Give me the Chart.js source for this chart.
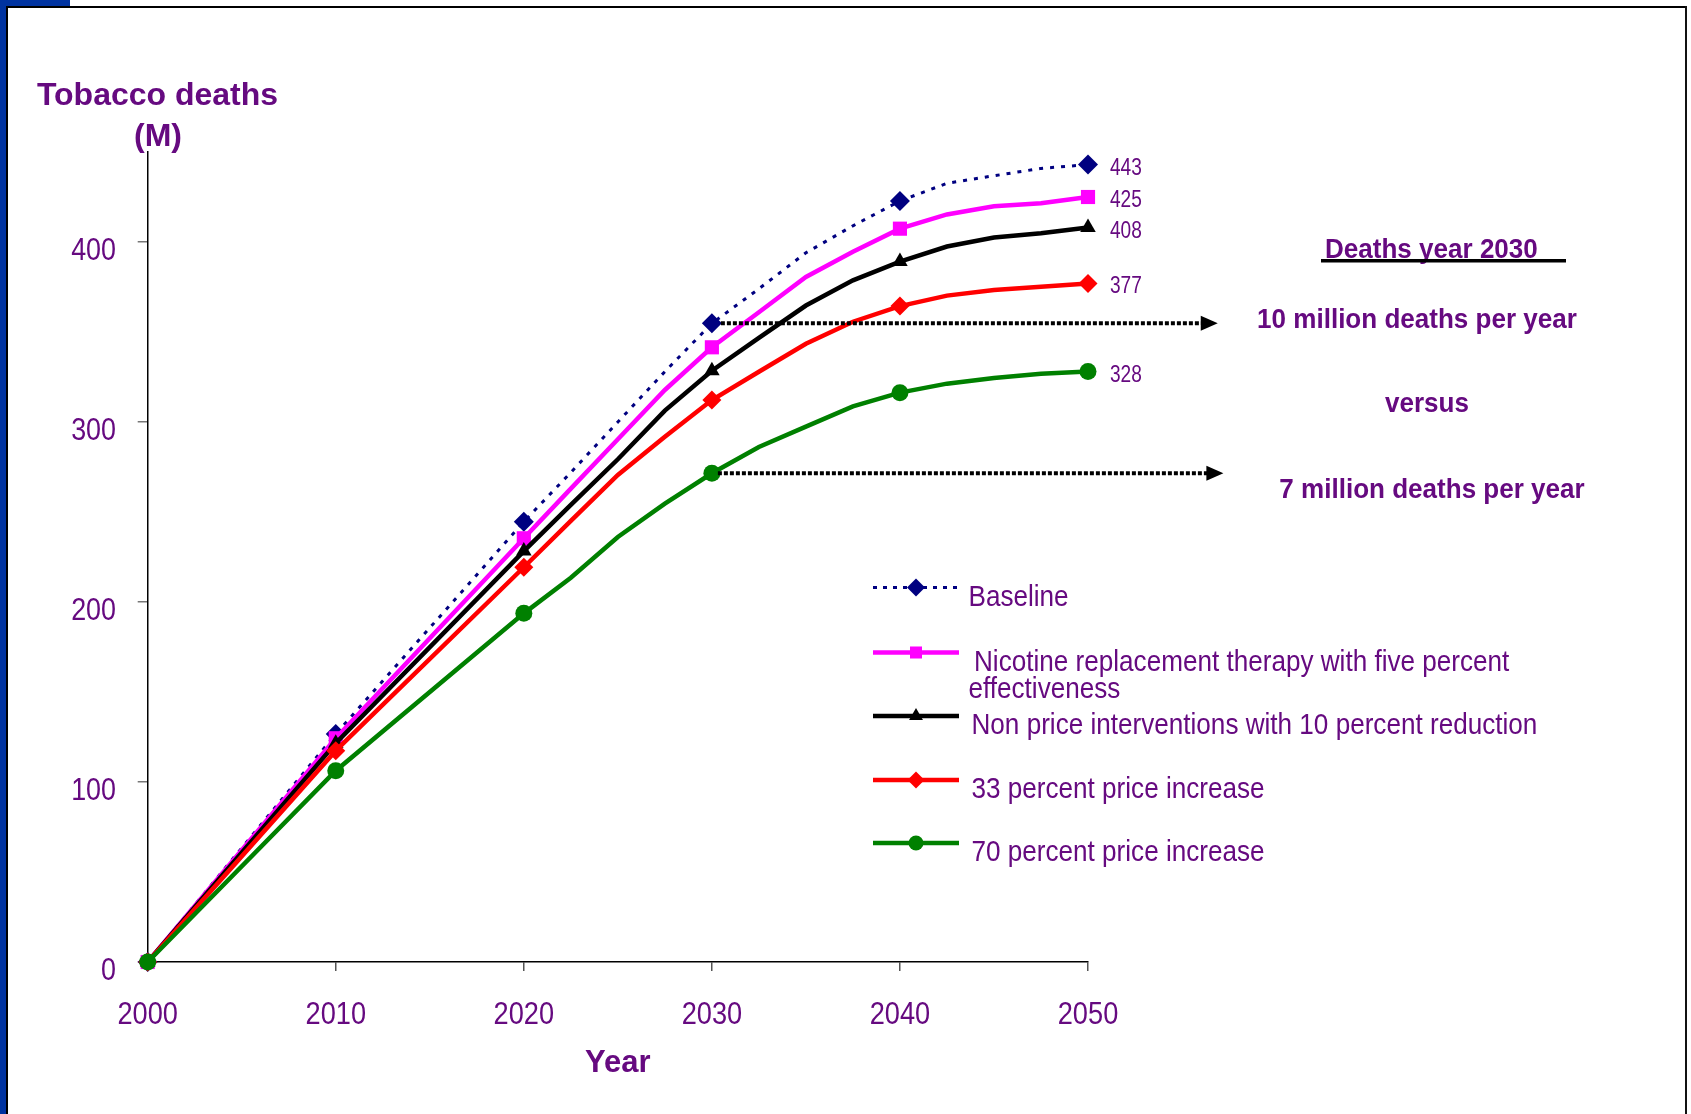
<!DOCTYPE html>
<html>
<head>
<meta charset="utf-8">
<title>Tobacco deaths</title>
<script src="https://cdn.jsdelivr.net/npm/chart.js@4.4.1/dist/chart.umd.min.js"></script>
<style>
  html, body { margin: 0; padding: 0; background: #fff; }
  body { width: 1691px; height: 1114px; position: relative; overflow: hidden; }
  #chart { position: absolute; left: 0; top: 0; }
  .frame { position: absolute; }
  #blueLeft { left: 0; top: 0; width: 6px; height: 1114px; background: #0033a0; }
  #blueTop { left: 0; top: 0; width: 70px; height: 7px; background: #0033a0; }
  #lineTop { left: 6px; top: 6px; width: 1681px; height: 2px; background: #000; }
  #lineLeft { left: 6px; top: 6px; width: 2px; height: 1108px; background: #000; }
  #lineRight { left: 1685px; top: 6px; width: 2px; height: 1108px; background: #111; }
</style>
</head>
<body>
<canvas id="chart" width="1691" height="1114"></canvas>
<div class="frame" id="blueLeft"></div>
<div class="frame" id="blueTop"></div>
<div class="frame" id="lineTop"></div>
<div class="frame" id="lineLeft"></div>
<div class="frame" id="lineRight"></div>
<script>
	// values (millions of deaths, cumulative)
	const years    = [2000, 2010, 2020, 2022.5, 2025, 2027.5, 2030, 2032.5, 2035, 2037.5, 2040, 2042.5, 2045, 2047.5, 2050];
	const baseline = [0, 126.7, 244.6, 272, 300, 328, 354.8, 374, 394, 409, 422.8, 432.6, 436.8, 440.9, 443];
	const nrt      = [0, 124.3, 235.4, 263, 290.4, 317.8, 341.5, 361, 380.6, 394.6, 407.4, 415.3, 419.8, 421.5, 425];
	const nonPrice = [0, 121.5, 228.3, 253.9, 279.3, 306.3, 328.5, 346.7, 364.7, 378.7, 389.1, 397.5, 402.5, 404.9, 408];
	const price33  = [0, 117.4, 219.3, 245.1, 270.6, 291.8, 312.2, 327.9, 343.5, 355.7, 364.4, 370.2, 373.3, 375.2, 377];
	const price70  = [0, 106.3, 193.7, 213.5, 236.1, 254.6, 271.5, 286.1, 297.4, 308.7, 316.3, 321.3, 324.4, 326.8, 328];

	const seriesNames = [
		'Baseline',
		'Nicotine replacement therapy with five percent effectiveness',
		'Non price interventions with 10 percent reduction',
		'33 percent price increase',
		'70 percent price increase'
	];
	const endLabels = ['443', '425', '408', '377', '328'];
	const xTicks = [2000, 2010, 2020, 2030, 2040, 2050];
	const yTicks = [0, 100, 200, 300, 400];
	const noteLines = ['Deaths year 2030', '10 million deaths per year', 'versus', '7 million deaths per year'];

	const PURPLE = '#660a80';
	const SANS = "'Liberation Sans', Arial, sans-serif";

	function pts(values){ return years.map((y, i) => ({ x: y, y: values[i] })); }
	function decadeOnly(r){ return ctx => (years[ctx.dataIndex] % 10 === 0 ? r : 0); }

	const styles = [
		{ color: '#000080', style: 'rectRot',  r: 10,  width: 3,   dash: [4, 7], order: 5 },
		{ color: '#ff00ff', style: 'rect',     r: 10,  width: 4.5, dash: [],     order: 4 },
		{ color: '#000000', style: 'triangle', r: 9,   width: 4.5, dash: [],     order: 3 },
		{ color: '#ff0000', style: 'rectRot',  r: 9.5, width: 4.5, dash: [],     order: 2 },
		{ color: '#008000', style: 'circle',   r: 8.5, width: 4.5, dash: [],     order: 1 }
	];
	const allSeries = [baseline, nrt, nonPrice, price33, price70];

	const datasets = allSeries.map((vals, i) => ({
		label: seriesNames[i],
		data: pts(vals),
		borderColor: styles[i].color,
		backgroundColor: styles[i].color,
		borderWidth: styles[i].width,
		borderDash: styles[i].dash,
		pointStyle: styles[i].style,
		pointRadius: decadeOnly(styles[i].r),
		pointBorderWidth: 0,
		pointHoverRadius: 0,
		tension: 0,
		clip: false,
		order: styles[i].order
	}));

	// the slide uses a narrow face; none is installed, so squeeze Liberation Sans
	function squeezed(ctx, text, x, y, sx, align){
		ctx.save();
		ctx.translate(x, y);
		ctx.scale(sx, 1);
		ctx.textAlign = align || 'left';
		ctx.fillText(text, 0, 0);
		ctx.restore();
	}

	function arrow(ctx, x0, x1, y){
		ctx.save();
		ctx.strokeStyle = '#000';
		ctx.lineWidth = 4;
		ctx.setLineDash([4, 2]);
		ctx.beginPath();
		ctx.moveTo(x0, y);
		ctx.lineTo(x1 - 15, y);
		ctx.stroke();
		ctx.setLineDash([]);
		ctx.fillStyle = '#000';
		ctx.beginPath();
		ctx.moveTo(x1, y);
		ctx.lineTo(x1 - 17, y - 7.5);
		ctx.lineTo(x1 - 17, y + 7.5);
		ctx.closePath();
		ctx.fill();
		ctx.restore();
	}

	const extras = {
		id: 'extras',
		afterDatasetsDraw(chart){
			const ctx = chart.ctx;
			const xs = chart.scales.x, ys = chart.scales.y;
			const last = years.length - 1;
			const i2030 = years.indexOf(2030);

			ctx.save();
			ctx.fillStyle = PURPLE;
			ctx.textBaseline = 'alphabetic';

			// tick labels
			ctx.font = '32px ' + SANS;
			xTicks.forEach(v => squeezed(ctx, String(v), xs.getPixelForValue(v), 1023.5, 0.85, 'center'));
			yTicks.forEach(v => squeezed(ctx, String(v), 116, ys.getPixelForValue(v) + 18, 0.84, 'right'));

			// y axis title, horizontal above the axis
			ctx.font = 'bold 32px ' + SANS;
			ctx.textAlign = 'center';
			ctx.fillText('Tobacco deaths', 157.5, 105);
			ctx.fillText('(M)', 158, 146);

			// values at the end of each line
			ctx.font = '23px ' + SANS;
			allSeries.forEach((vals, i) => {
				squeezed(ctx, endLabels[i], xs.getPixelForValue(years[last]) + 22, ys.getPixelForValue(vals[last]) + 10, 0.83, 'left');
			});

			// arrows from the 2030 values
			arrow(ctx, xs.getPixelForValue(2030) + 9, xs.getPixelForValue(2056.9), ys.getPixelForValue(baseline[i2030]));
			arrow(ctx, xs.getPixelForValue(2030) + 6, xs.getPixelForValue(2057.2), ys.getPixelForValue(price70[i2030]));

			// 2030 note on the right
			ctx.fillStyle = PURPLE;
			ctx.font = 'bold 28px ' + SANS;
			squeezed(ctx, noteLines[0], 1325, 258, 0.93, 'left');
			ctx.fillStyle = '#000';
			ctx.fillRect(1321, 259, 245, 3.5);
			ctx.fillStyle = PURPLE;
			squeezed(ctx, noteLines[1], 1417, 328, 0.93, 'center');
			squeezed(ctx, noteLines[2], 1427, 412, 0.93, 'center');
			squeezed(ctx, noteLines[3], 1432, 498, 0.93, 'center');

			// legend
			const rowY = [587.5, 652.5, 716, 780, 843];
			const legendR = [9, 8.5, 8, 8.5, 7.5];
			chart.data.datasets.forEach((ds, i) => {
				const y = rowY[i];
				ctx.save();
				ctx.strokeStyle = ds.borderColor;
				ctx.fillStyle = ds.borderColor;
				ctx.lineWidth = i === 0 ? 3 : 4.5;
				ctx.setLineDash(i === 0 ? [4, 6] : []);
				ctx.beginPath();
				ctx.moveTo(873, y);
				ctx.lineTo(959, y);
				ctx.stroke();
				ctx.setLineDash([]);
				Chart.helpers.drawPoint(ctx, { pointStyle: ds.pointStyle, radius: legendR[i], rotation: 0, borderWidth: 0 }, 916, y);
				ctx.restore();
			});
			ctx.fillStyle = PURPLE;
			ctx.font = '30px ' + SANS;
			const sx = 0.87;
			squeezed(ctx, 'Baseline', 968.5, rowY[0] + 18, sx);
			squeezed(ctx, 'Nicotine replacement therapy with five percent', 974, rowY[1] + 18, sx);
			squeezed(ctx, 'effectiveness', 968.5, rowY[1] + 45, sx);
			squeezed(ctx, seriesNames[2], 971.5, rowY[2] + 18, sx);
			squeezed(ctx, seriesNames[3], 971.5, rowY[3] + 18, sx);
			squeezed(ctx, seriesNames[4], 971.5, rowY[4] + 18, sx);
			ctx.restore();
		}
	};

	new Chart(document.getElementById('chart'), {
		type: 'line',
		data: { datasets: datasets },
		options: {
			responsive: false,
			animation: false,
			devicePixelRatio: 1,
			layout: { padding: { left: 0, top: 152, right: 603, bottom: 0 } },
			plugins: {
				legend: { display: false },
				tooltip: { enabled: false }
			},
			scales: {
				x: {
					type: 'linear',
					min: 2000,
					max: 2050,
					afterBuildTicks: s => { s.ticks = xTicks.map(v => ({ value: v })); },
					afterFit: s => { s.height = 152; },
					ticks: { display: false },
					grid: { drawOnChartArea: false, drawTicks: true, tickLength: 9, color: '#555', lineWidth: 1.5 },
					border: { color: '#000', width: 1.5 },
					title: {
						display: true,
						text: 'Year',
						color: PURPLE,
						font: { family: SANS, size: 31, weight: 'bold' },
						padding: { top: 0, bottom: 32 }
					}
				},
				y: {
					min: 0,
					max: 450,
					afterBuildTicks: s => { s.ticks = yTicks.map(v => ({ value: v })); },
					afterFit: s => { s.width = 147.7; },
					ticks: { display: false },
					grid: { drawOnChartArea: false, drawTicks: true, tickLength: 10, color: '#777', lineWidth: 1.5 },
					border: { color: '#000', width: 1.5 }
				}
			}
		},
		plugins: [extras]
	});
</script>
</body>
</html>
